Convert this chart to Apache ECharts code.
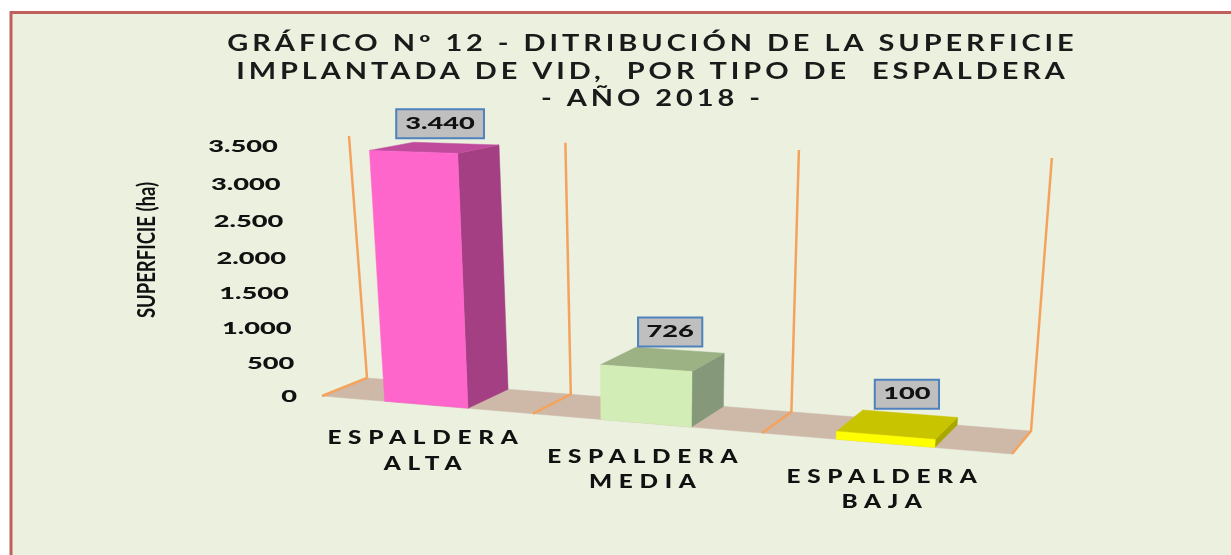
<!DOCTYPE html>
<html><head><meta charset="utf-8">
<style>html,body{margin:0;padding:0;background:#fff;overflow:hidden}#c{width:1231px;height:555px}</style>
<script src="https://cdn.jsdelivr.net/npm/echarts@6/dist/echarts.min.js"></script>
</head><body><div id="c"></div>
<script>
const categories = ['ESPALDERA\nALTA', 'ESPALDERA\nMEDIA', 'ESPALDERA\nBAJA'];
const values = [3440, 726, 100];
const yTicks = [0, 500, 1000, 1500, 2000, 2500, 3000, 3500];
const titleLines = ['GRÁFICO Nº 12 - DITRIBUCIÓN DE LA SUPERFICIE', 'IMPLANTADA DE VID,  POR TIPO DE  ESPALDERA', '- AÑO 2018 -'];
const yName = 'SUPERFICIE (ha)';
const barStyles = [
  {front:'#FF66CC', side:'#A33F82', top:'#C04B9C'},
  {front:'#D3EDB6', side:'#85997A', top:'#9CB184'},
  {front:'#FFFF00', side:'#A8A800', top:'#C9C400'}
];
const FONT = 'Lato, Carlito, sans-serif';

// canvas text has no letter spacing option in zrender: apply it per string
const spacing = new Map();
titleLines.forEach(t => spacing.set(t, 3));
categories.forEach(c => c.split('\n').forEach(t => spacing.set(t, 5)));
const origFill = CanvasRenderingContext2D.prototype.fillText;
CanvasRenderingContext2D.prototype.fillText = function (t, x, y, m) {
  const s = spacing.get(t);
  if (s) this.letterSpacing = s + 'px';
  const r = m === undefined ? origFill.call(this, t, x, y) : origFill.call(this, t, x, y, m);
  if (s) this.letterSpacing = '0px';
  return r;
};

// Perspective of the 3D plot: u along the categories, h = value share of axis, z = depth
const F0=[322,396],F1=[1012,454],B1=[1031,431],B0=[367,378],T0=[349,136],T1=[1052,158];
const LEAN=33; // uprights lean outwards to the right
const cam = (function(){
  const dx1=F1[0]-B1[0],dx2=B0[0]-B1[0],sx=F0[0]-F1[0]+B1[0]-B0[0];
  const dy1=F1[1]-B1[1],dy2=B0[1]-B1[1],sy=F0[1]-F1[1]+B1[1]-B0[1];
  const det=dx1*dy2-dx2*dy1;
  const g=(sx*dy2-dx2*sy)/det,h=(dx1*sy-sx*dy1)/det;
  const a=F1[0]-F0[0]+g*F1[0],b=B0[0]-F0[0]+h*B0[0],c=F0[0];
  const d=F1[1]-F0[1]+g*F1[1],e=B0[1]-F0[1]+h*B0[1],f=F0[1];
  const s0=[b+c,e+f,h+1],s1=[a+b+c,d+e+f,g+h+1];
  const W=(s0[1]-s1[1]-T0[1]*s0[2]+T1[1]*s1[2])/(T0[1]-T1[1]);
  const B=T0[1]*(s0[2]+W)-s0[1],A=T0[0]*(s0[2]+W)-s0[0];
  return {a,b,c,d,e,f,g,h,A,B,W};
})();
function P(u,hh,z){
  const m=cam,w=m.g*u+m.h*z+1+m.W*hh;
  return [(m.a*u+m.b*z+m.c+m.A*hh)/w+LEAN*hh*u,(m.d*u+m.e*z+m.f+m.B*hh)/w];
}
const poly=(pts,fill,stroke)=>({type:'polygon',shape:{points:pts},style:{fill,stroke:stroke||fill,lineWidth:0.5}});
const fmt=v=>String(v).replace(/\B(?=(\d{3})+$)/g,'.');
const txt=(text,x,y,size,sx,weight)=>({type:'text',x,y,scaleX:sx,style:{text,fontFamily:FONT,fontWeight:weight||'bold',fontSize:size,fill:'#111',align:'center',verticalAlign:'middle'}});

function renderFloor(params,api){
  const pts=[P(0,0,0),P(1,0,0),P(1,0,1),P(0,0,1)];
  return poly(pts,'#CEB9A9');
}
function renderPost(params,api){
  const u=api.value(0)/categories.length;
  const pts=[P(u,0,0),P(u,0,1),P(u,1,1)];
  return {type:'polyline',shape:{points:pts},style:{stroke:'#F5A35C',lineWidth:2.5,fill:null}};
}
function renderBar(params,api){
  const b=params.coordSys, i=api.value(0);
  const cx=api.coord([i,0])[0], topY=api.coord([i,api.value(1)])[1];
  const band=api.size([1,0])[0]/b.width;
  const uc=(cx-b.x)/b.width+0.003*band, hw=band*0.395/2;
  const hv=(b.y+b.height-topY)/b.height;
  const L=uc-hw,R=uc+hw,s=barStyles[i];
  const fb0=P(L,0,0),fb1=P(R,0,0),ft0=P(L,hv,0),ft1=P(R,hv,0),bb1=P(R,0,1),bt0=P(L,hv,1),bt1=P(R,hv,1);
  const c=P(uc,hv,0.5);
  const text=fmt(api.value(1));
  const bw=text.length*11.75+29,bh=29;
  const bx=c[0]+5+2*i,by=c[1]-24-3*i;
  const base=P(uc,0,0);
  const lines=categories[i].split('\n');
  return {type:'group',children:[
    poly([fb1,bb1,bt1,ft1],s.side),
    poly([ft0,ft1,bt1,bt0],s.top),
    poly([fb0,fb1,ft1,ft0],s.front),
    {type:'rect',shape:{x:bx-bw/2,y:by-bh/2,width:bw,height:bh},style:{fill:'#BFBFBF',stroke:'#4F81BD',lineWidth:2}},
    txt(text,bx,by,16,1.7,900),
    txt(lines[0],base[0],base[1]+33.5,18,1.35,900),
    txt(lines[1],base[0],base[1]+59,18,1.35,900)
  ]};
}
function renderTick(params,api){
  const b=params.coordSys;
  const y=api.coord([0,api.value(0)])[1];
  const hv=(b.y+b.height-y)/b.height;
  const p=P(0,hv,0);
  const t=txt(fmt(api.value(0)),p[0]-25,p[1]+1+2.5*hv+14*hv*(1-hv),16,1.7,900);
  t.style.align='right';
  return t;
}
const chart=echarts.init(document.getElementById('c'),null,{renderer:'canvas',width:1231,height:555});
const base={type:'custom',coordinateSystem:'cartesian2d',clip:false,silent:true,animation:false};
chart.setOption({
  animation:false,
  grid:{left:0,right:0,top:0,bottom:0},
  xAxis:{type:'category',data:categories,show:false},
  yAxis:{type:'value',min:0,max:3500,interval:500,show:false},
  graphic:{elements:[
    {type:'rect',z:-10,shape:{x:11,y:12.5,width:1400,height:800},style:{fill:'#EBF0DF',stroke:'#C0605C',lineWidth:3}},
    {type:'group',z:5,children:titleLines.map((t,i)=>({type:'text',x:652.5,y:44+i*27.5,scaleX:1.315,style:{text:t,fontFamily:FONT,fontWeight:'bold',fontSize:22,fill:'#1A1A1A',align:'center',verticalAlign:'middle'}}))},
    {type:'text',z:5,x:147,y:250,rotation:Math.PI/2,scaleX:0.77,style:{text:yName,fontFamily:FONT,fontWeight:'bold',fontSize:24,fill:'#111',align:'center',verticalAlign:'middle'}}
  ]},
  series:[
    Object.assign({},base,{name:'floor',data:[[0,0]],encode:{x:0,y:1},renderItem:renderFloor,z:1}),
    Object.assign({},base,{name:'posts',data:[[0,0],[1,0],[2,0],[3,0]],encode:{x:0,y:1},renderItem:renderPost,z:2}),
    Object.assign({},base,{name:'SUPERFICIE',data:values.map((v,i)=>[i,v]),encode:{x:0,y:1},renderItem:renderBar,z:3}),
    Object.assign({},base,{name:'ticks',data:yTicks.map(v=>[v]),encode:{y:0},renderItem:renderTick,z:4})
  ]
});
</script></body></html>
